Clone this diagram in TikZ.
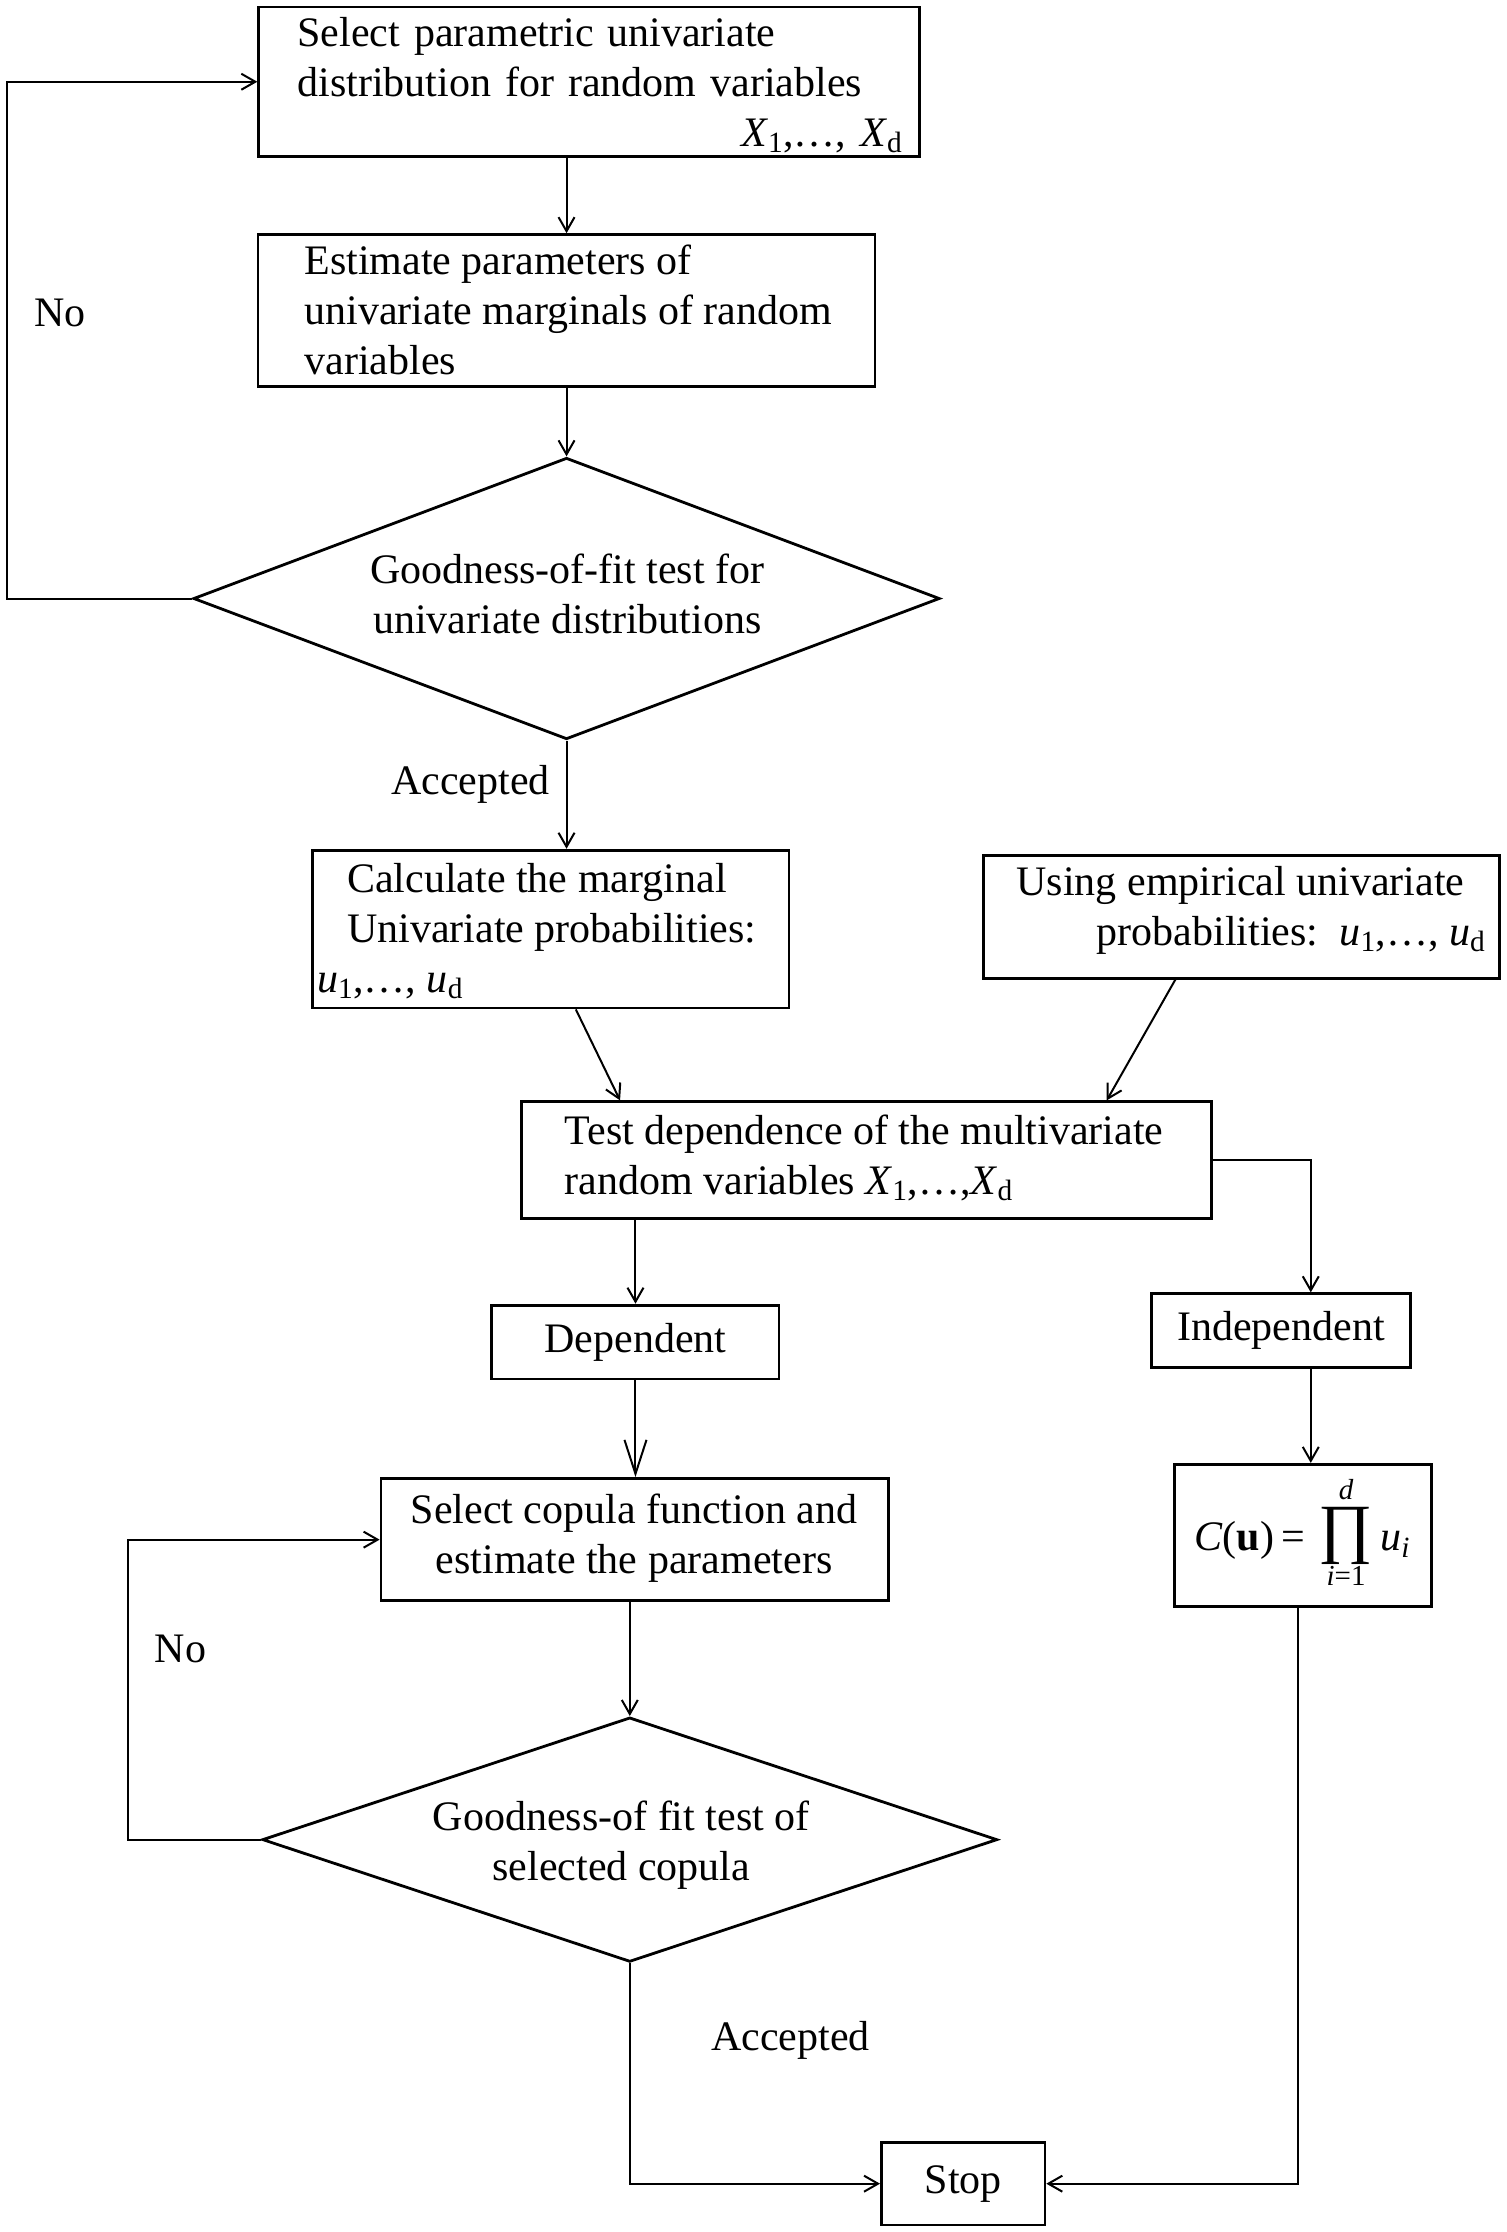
\RequirePackage{fix-cm}
\documentclass[tikz,border=0pt]{standalone}
\usepackage{fontspec}
\setmainfont{Liberation Serif}
\usetikzlibrary{shapes.geometric,arrows.meta,calc}
\newcommand\Xs[1]{\textit{X}\textsubscript{#1}}
\newcommand\us[1]{\textit{u}\textsubscript{#1}}
\newcommand\limfont{\fontsize{29}{29}\selectfont}
\begin{document}
\begin{tikzpicture}[x=1.4217pt,y=-1.4217pt,
  box/.style={draw, line width=2.8pt, inner sep=0pt},
  dia/.style={draw, diamond, line width=2.8pt, inner sep=0pt},
  txt/.style={font=\fontsize{42}{50}\selectfont, inner sep=0pt},
  conn/.style={line width=2pt},
  arr/.style={conn, -{Straight Barb[length=14pt,width=16pt,line width=2pt]}},
  bigarr/.style={conn, -{Straight Barb[length=34pt,width=22pt,line width=2pt]}}]
\fill[white] (0,0) rectangle (1060,1570);
\useasboundingbox (0,0) rectangle (1060,1570);

% boxes
\node[box, minimum width=661.1pt, minimum height=149.3pt] (b1) at (414.5,57.5) {};
\node[txt, text width=605pt, align=left] (t1) at (422,60)
  {Select parametric univariate\\distribution for random variables\\\hspace*{\fill}\Xs{1},…, \Xs{d}};

\node[box, minimum width=617pt, minimum height=152.1pt] (b2) at (398.5,218.5) {};
\node[txt, anchor=west, align=left] (t2) at (214,218)
  {Estimate parameters of\\univariate marginals of random\\variables};

\node[dia, minimum width=746.4pt, minimum height=281.5pt] (d1) at (398.5,421) {};
\node[txt, align=center] (td1) at (399,418) {Goodness-of-fit test for\\univariate distributions};

\node[box, minimum width=476.3pt, minimum height=157.8pt] (b3) at (387.5,653.5) {};
\node[txt, anchor=west, align=left] (t3) at (223,655)
  {\hspace*{30pt}Calculate the marginal\\\hspace*{30pt}Univariate probabilities:\\\us{1},…, \us{d}};

\node[box, minimum width=516.1pt, minimum height=122.3pt] (b4) at (873.5,645) {};
\node[txt, anchor=east, align=right] (t4) at (1045,640.5)
  {Using empirical univariate\hspace*{21pt}\\probabilities:\ \ \us{1},…, \us{d}};

\node[box, minimum width=689.5pt, minimum height=116.6pt] (b5) at (609.5,816) {};
\node[txt, anchor=west, align=left] (t5) at (397,814.5)
  {Test dependence of the multivariate\\random variables \Xs{1},…,\Xs{d}};

\node[box, txt, minimum width=287.2pt, minimum height=73.9pt] (dep) at (447,944) {Dependent};
\node[box, txt, minimum width=258.8pt, minimum height=73.9pt] (ind) at (901,936) {Independent};

\node[box, minimum width=507.5pt, minimum height=122.3pt] (sc) at (446.5,1083) {};
\node[txt, align=center] (tsc) at (446,1082) {Select copula function and\\estimate the parameters};

\node[box, minimum width=257.3pt, minimum height=142.2pt] (cu) at (916.5,1080) {};
\node[txt] (tcu) at (916,1078) {$\displaystyle
  \hbox{\textit{C}(\textbf{u})\,=\,}\mathop{\hbox{\fontsize{66}{66}\selectfont ∏}}\limits_{\raisebox{-5pt}{\limfont\textit{i}=1}}^{\raisebox{6pt}{\limfont\textit{d}}}\hbox{\textit{u}\textsubscript{\textit{i}}}$};

\node[dia, minimum width=735pt, minimum height=244.5pt] (d2) at (443,1294) {};
\node[txt, align=center] (td2) at (437,1298) {Goodness-of fit test of\\selected copula};

\node[box, txt, minimum width=163.5pt, minimum height=82.5pt] (stop) at (677.5,1536) {Stop};

% labels
\node[txt] (no1) at (42,220) {No};
\node[txt] (acc1) at (331,552) {Accepted};
\node[txt] (no2) at (127,1160) {No};
\node[txt] (acc2) at (556,1435) {Accepted};

% connectors
\coordinate (l1) at (5,0);
\coordinate (l2) at (90,0);
\coordinate (rc) at (922,0);
\coordinate (rc2) at (913,0);
\draw[arr] (b1.south -| b2.north) -- (b2.north);
\draw[arr] (b2.south) -- (b2.south |- d1.north);
\draw[arr] (d1.west) -- (d1.west -| l1) |- (b1.west);
\draw[arr] (d1.south) -- (d1.south |- b3.north);
\draw[arr] ($(b3.south west)!0.552!(b3.south east)$) -- ($(b5.north west)!0.144!(b5.north east)$);
\draw[arr] ($(b4.south west)!0.372!(b4.south east)$) -- ($(b5.north west)!0.847!(b5.north east)$);
\draw[arr] (b5.south -| dep.north) -- (dep.north);
\draw[arr] (b5.east) -| (ind.north -| rc);
\draw[arr] (ind.south -| rc) -- (cu.north -| rc);
\draw[bigarr] (dep.south) -- (dep.south |- sc.north);
\draw[arr] (sc.south -| d2.north) -- (d2.north);
\draw[arr] (d2.west) -- (d2.west -| l2) |- (sc.west);
\draw[arr] (d2.south) |- (stop.west);
\draw[arr] (cu.south -| rc2) |- (stop.east);
\end{tikzpicture}
\end{document}
